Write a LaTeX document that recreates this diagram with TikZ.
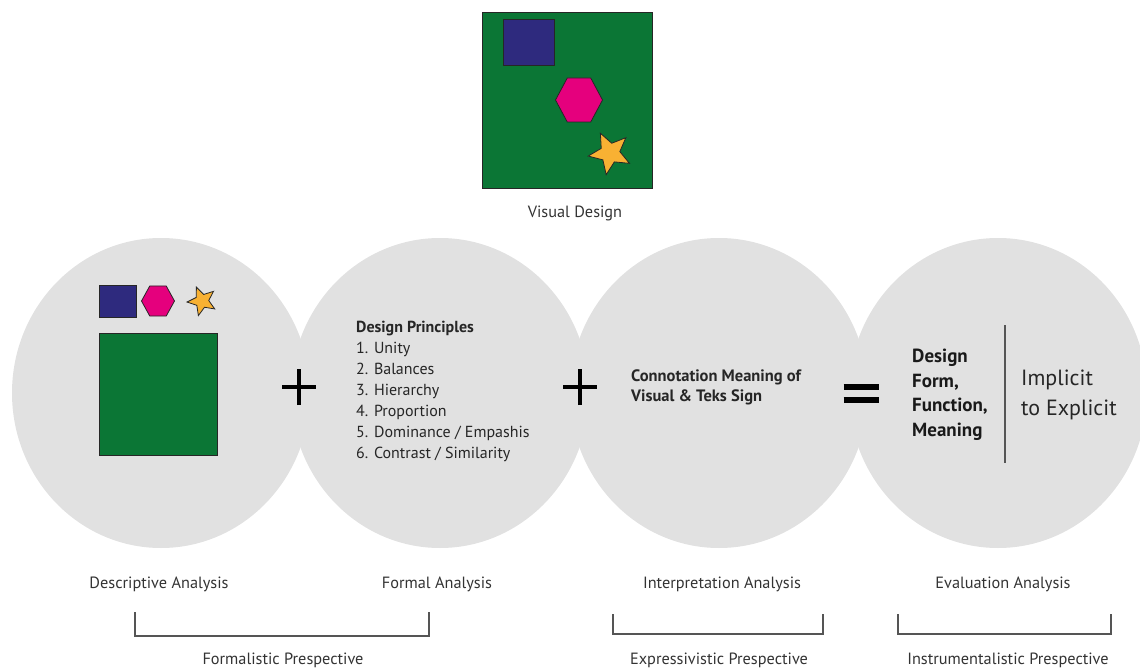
\documentclass[tikz,border=0pt]{standalone}
\usepackage{fontspec}
\setmainfont{PT Sans}
\definecolor{circ}{HTML}{E1E1E1}
\definecolor{dgreen}{HTML}{0B7635}
\definecolor{navy}{HTML}{2E2A7E}
\definecolor{pink}{HTML}{E5007D}
\definecolor{gold}{HTML}{F8B133}
\definecolor{txt}{HTML}{333333}
\definecolor{linegray}{HTML}{555555}
\tikzset{
  bubble/.style={fill=circ, draw=none},
  shapeline/.style={draw=black!85, line width=0.8pt},
  opsign/.style={line width=4.5pt, black},
  label/.style={text=txt, font=\fontsize{16.3}{18}\selectfont, inner sep=0pt},
  bracketline/.style={draw=linegray, line width=1.4pt},
  pics/hexa/.style args={#1/#2}{code={
    \draw[shapeline, fill=pink] (-#1,0) -- (-#1/2,-#2) -- (#1/2,-#2) -- (#1,0) -- (#1/2,#2) -- (-#1/2,#2) -- cycle;}},
  pics/starp/.style args={#1/#2}{code={
    \draw[shapeline, fill=gold] (90+#2:#1pt) \foreach \k in {0,...,4}{ -- ({126+#2+72*\k}:0.45*#1pt) -- ({162+#2+72*\k}:#1pt) } -- cycle;}}
}
\begin{document}
\begin{tikzpicture}[x=1pt, y=-1pt]
\useasboundingbox (0,0) rectangle (1140,668);
\begin{scope}
\clip (0,0) rectangle (1140,668);
% bubbles
\foreach \cx in {161,440,719,998}{
  \fill[bubble] (\cx,393) ellipse [x radius=149, y radius=155];
}
\end{scope}

% Visual design picture
\draw[shapeline, fill=dgreen] (482,12) rectangle (652,188);
\draw[shapeline, fill=navy] (503,19) rectangle (554,65);
\pic at (579,100) {hexa=23.5/22};
\pic at (610,153) {starp=22/26};
\node[label] (vd) at (575,213) {Visual Design};

% circle 1 contents
\draw[shapeline, fill=navy] (99,285) rectangle (136,317);
\pic at (158,301) {hexa=16.5/15};
\pic at (202,301) {starp=15/22};
\draw[shapeline, fill=dgreen] (99,333) rectangle (217,455);

% operators
\coordinate (p1) at (299,387);
\coordinate (p2) at (580,387);
\coordinate (eq) at (861,393.5);
\foreach \p in {p1,p2}{
  \draw[opsign] ([xshift=-17pt]\p) -- ([xshift=17pt]\p);
  \draw[opsign] ([yshift=-18pt]\p) -- ([yshift=18pt]\p);
}
\draw[line width=6pt] ([xshift=-17.5pt,yshift=6.5pt]eq) -- ([xshift=17.5pt,yshift=6.5pt]eq);
\draw[line width=6pt] ([xshift=-17.5pt,yshift=-6.5pt]eq) -- ([xshift=17.5pt,yshift=-6.5pt]eq);

% circle 2 text
\node[anchor=west, align=left, inner sep=0pt, text=black!85, font=\fontsize{16}{21}\selectfont] (dp) at (356,391)
{\textbf{Design Principles}\\1. Unity\\2. Balances\\3. Hierarchy\\4. Proportion\\5. Dominance / Empashis\\6. Contrast / Similarity};

% circle 3 text
\node[anchor=west, align=left, inner sep=0pt, text=black!85, font=\bfseries\fontsize{16.5}{20}\selectfont] (cm) at (631,387)
{Connotation Meaning of\\Visual \& Teks Sign};

% circle 4 text
\node[anchor=west, align=left, inner sep=0pt, text=black!90, font=\bfseries\fontsize{19}{24.5}\selectfont] (dff) at (912,395)
{Design\\Form,\\Function,\\Meaning};
\coordinate (vt) at (1005,325);
\coordinate (vb) at (1005,463);
\draw[draw=linegray, line width=1.4pt] (vt) -- (vb);
\node[anchor=west, align=left, inner sep=0pt, text=black!85, font=\fontsize{22}{30}\selectfont] (ie) at (1021,395)
{Implicit\\to Explicit};

% bottom labels
\node[label] (da) at (159,584) {Descriptive Analysis};
\node[label] (fa) at (437,584) {Formal Analysis};
\node[label] (ia) at (722,584) {Interpretation Analysis};
\node[label] (ea) at (1003,584) {Evaluation Analysis};

\coordinate (b1a) at (135,612); \coordinate (b1b) at (429,612);
\coordinate (b2a) at (613,614); \coordinate (b2b) at (823,614);
\coordinate (b3a) at (898,614); \coordinate (b3b) at (1111,614);
\draw[bracketline] (b1a) -- ++(0,24) -| (b1b);
\draw[bracketline] (b2a) -- ++(0,20) -| (b2b);
\draw[bracketline] (b3a) -- ++(0,20) -| (b3b);

\node[label] (fp) at (283,660) {Formalistic Prespective};
\node[label] (xp) at (719,660) {Expressivistic Prespective};
\node[label] (ip) at (1008,660) {Instrumentalistic Prespective};
\end{tikzpicture}
\end{document}
